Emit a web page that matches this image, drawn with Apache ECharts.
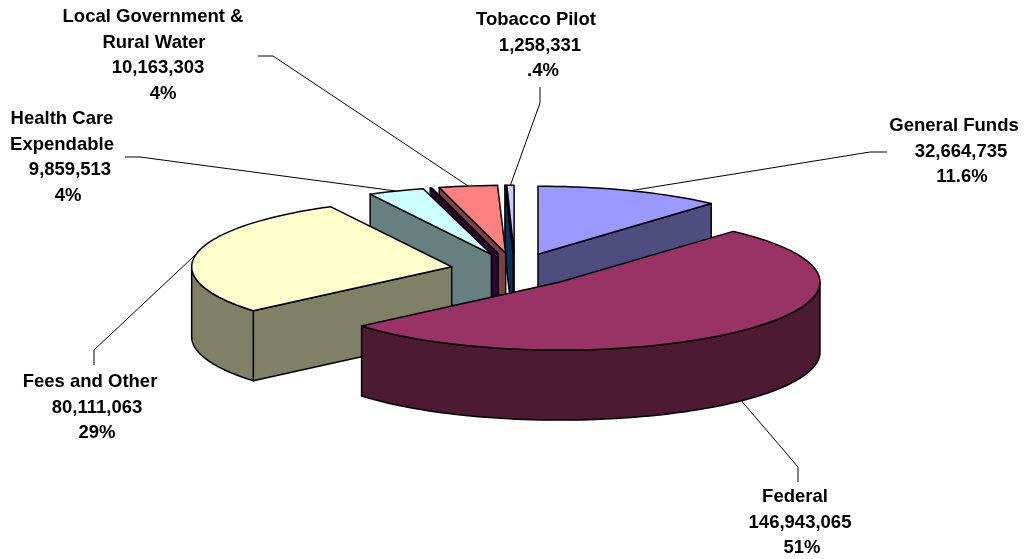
<!DOCTYPE html>
<html><head><meta charset="utf-8">
<style>html,body{margin:0;padding:0;background:#fff}#c{width:1026px;height:559px}</style>
<script src="https://cdn.jsdelivr.net/npm/echarts@6/dist/echarts.min.js"></script>
</head><body><div id="c"></div>
<script>
// Data (clockwise from 12 o'clock)
const categories = ['General Funds','Federal','Fees and Other','Health Care Expendable','(unlabelled)','Local Government & Rural Water','(unlabelled 2)','Tobacco Pilot'];
const amounts = [32664735,146943065,80111063,9859513,300000,10163303,150000,1258331];
const percents = ['11.6%','51%','29%','4%','','4%','','.4%'];
const topColors = ['#9999FF','#993366','#FFFFCC','#CCFFFF','#660066','#FF8080','#0066CC','#CCCCFF'];
const sideColors = ['#4D4D80','#4D1A33','#808066','#668080','#330033','#804040','#003366','#666680'];
// Text lines of each label (name part), label anchor and leader elbows
const nameLines = [['General Funds'],['Federal'],['Fees and Other'],['Health Care','Expendable'],[],['Local Government &','Rural Water'],[],['Tobacco Pilot']];
const labelAnchors = [[954,126],[795,497],[90,382],[62,119],null,[153,17],null,[536,20]];
const labelShift = [[0,7,8],[0,5,7],[0,7,7],[0,0,8,6],null,[0,1,5,10],null,[0,4,7]];
const elbows = [[[870,152],[887,152]],[[798,467],[798,482]],[[94,350],[94,365]],[[140,157],[125,157]],null,[[273,56],[258,56]],null,[[540,103],[540,87]]];
const drawRank = [5,8,7,4,3,2,1,0];

// Pie projection
const CX=515, CY=270, RX=260, RY=68, DEPTH=70, EXPLODE=0.248;
const total = amounts.reduce((a,b)=>a+b,0);
const RAD=Math.PI/180;
let acc=0;
const spans = amounts.map(v=>{const s=acc; acc+=v/total*360; return [s,acc];});
const fmt = v=>String(v).replace(/\B(?=(\d{3})+$)/g,',');

function renderSlice(params, api){
  const i = api.value(0);
  const [a0,a1] = spans[i];
  const mid=(a0+a1)/2;
  const cx=CX+EXPLODE*RX*Math.sin(mid*RAD), cy=CY-EXPLODE*RY*Math.cos(mid*RAD);
  const P=(a,d=0)=>[cx+RX*Math.sin(a*RAD), cy-RY*Math.cos(a*RAD)+d];
  const z=drawRank[i]*10;
  const style=(fill)=>({fill, stroke:'#000', lineWidth:1.5, lineJoin:'round'});
  const kids=[];
  const poly=(pts,fill,zz)=>kids.push({type:'polygon',z2:z+zz,shape:{points:pts},style:style(fill)});
  // radial faces
  if(Math.cos((a0-90)*RAD)<0) poly([[cx,cy],P(a0),P(a0,DEPTH),[cx,cy+DEPTH]],sideColors[i],1);
  if(Math.cos((a1+90)*RAD)<0) poly([[cx,cy],P(a1),P(a1,DEPTH),[cx,cy+DEPTH]],sideColors[i],1);
  // rim
  const r0=Math.max(a0,90), r1=Math.min(a1,270);
  if(r1>r0){
    const up=[],down=[];
    for(let k=0;k<=80;k++){const a=r0+(r1-r0)*k/80; up.push(P(a)); down.unshift(P(a,DEPTH));}
    poly(up.concat(down),sideColors[i],2);
  }
  // top
  const top=[[cx,cy]];
  const n=Math.max(2,Math.ceil((a1-a0)/2));
  for(let k=0;k<=n;k++) top.push(P(a0+(a1-a0)*k/n));
  poly(top,topColors[i],3);
  // leader and label
  if(elbows[i]){
    const front=mid>90&&mid<270;
    const inner=P(mid, front?DEPTH:0);
    kids.push({type:'polyline',z2:front?z+4:-1,shape:{points:[inner].concat(elbows[i])},style:{fill:null,stroke:'#000',lineWidth:1}});
    const lines=nameLines[i].concat([fmt(amounts[i]),percents[i]]);
    const [lx,ly]=labelAnchors[i];
    lines.forEach((t,j)=>kids.push({type:'text',z2:200,style:{
      text:t,x:lx+(labelShift[i][j]||0),y:ly+j*25.6,
      font:'bold 18.5px "Liberation Sans",Arial,sans-serif',fill:'#000',align:'center',verticalAlign:'middle'}}));
  }
  return {type:'group',children:kids};
}

const chart=echarts.init(document.getElementById('c'),null,{renderer:'canvas'});
chart.setOption({
  animation:false,
  backgroundColor:'#fff',
  series:[{
    type:'custom',
    coordinateSystem:'none',
    silent:true,
    clip:false,
    renderItem:renderSlice,
    data:amounts.map((v,i)=>({name:categories[i],value:[i,v]}))
  }]
});
</script></body></html>
